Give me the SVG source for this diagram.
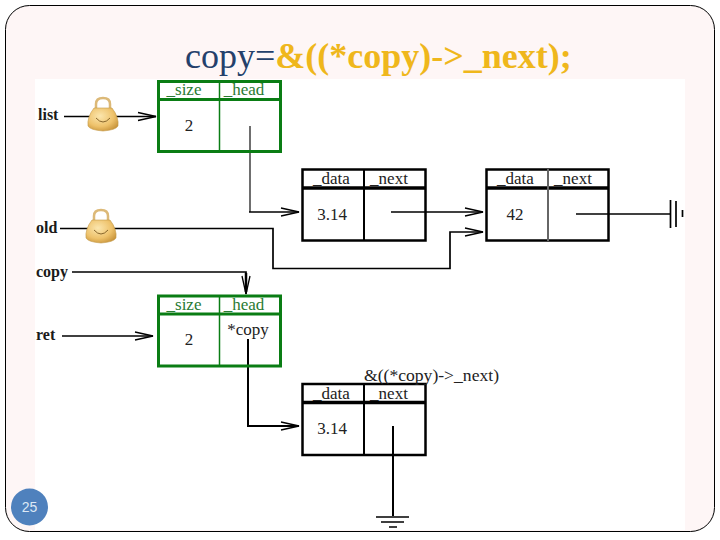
<svg xmlns="http://www.w3.org/2000/svg" width="720" height="540" viewBox="0 0 720 540">
<style>
.g{fill:none;stroke:#0a7d14;stroke-width:3}
.g2{fill:none;stroke:#0a7d14;stroke-width:1.5}
.k{fill:none;stroke:#000;stroke-width:2.5}
.w{fill:none;stroke:#000;stroke-width:1.7}
.h{fill:none;stroke:#000;stroke-width:3.500}
.t{font-family:"Liberation Serif",serif;font-size:17px;fill:#222}
.gt{font-family:"Liberation Serif",serif;font-size:17px;fill:#2a7a33}
.lb{font-family:"Liberation Serif",serif;font-size:16px;fill:#1a1a1a;font-weight:bold}
.m{text-anchor:middle}
.lock{fill:url(#gold);stroke:#c49a4a;stroke-width:.6}
.shack{fill:none;stroke:#dcb978;stroke-width:2.5}
.face{fill:none;stroke:#6b4a14;stroke-width:.8}
</style>
<defs>
<radialGradient id="gold" cx=".4" cy=".35" r=".75"><stop offset="0" stop-color="#fbe6ae"/><stop offset=".6" stop-color="#eec26b"/><stop offset="1" stop-color="#c48f35"/></radialGradient>
<marker id="a" markerUnits="userSpaceOnUse" markerWidth="20" markerHeight="12" refX="19" refY="6" orient="auto"><path d="M1 2L19 6L1 10" fill="none" stroke="#000" stroke-width="1.300"/></marker>
<g id="lk"><path class="shack" d="M-7-8V-13Q-7-19 0-19Q7-19 7-13V-8"/><path class="lock" d="M-9-9H9Q16 0 15 9Q13 13 0 14Q-13 13-15 9Q-16 0-9-9Z"/><path class="face" d="M-7 1Q0 9 7 1"/></g>
</defs>
<rect x="0" y="0" width="720" height="540" fill="#fff"/>
<rect x="5.500" y="5.500" width="709" height="526" rx="24" fill="#fef6f6" stroke="#000" stroke-width="1"/>
<rect x="35" y="79" width="650" height="451" fill="#fff"/>
<text x="185" y="68" font-family="Liberation Serif,serif" font-size="36" fill="#24406b">copy=<tspan fill="#efb71c" font-weight="bold">&amp;((*copy)-&gt;_next);</tspan></text>
<g id="connectors">
<path class="w" d="M64 116.500H156" marker-end="url(#a)"/>
<path class="w" style="stroke:#555" d="M250 126V212"/>
<path class="w" d="M249 212H299" marker-end="url(#a)"/>
<path class="w" d="M391 212H483" marker-end="url(#a)"/>
<path class="w" d="M576 214H670"/>
<path class="w" d="M670.500 200V228M676 201V227M682.500 210V217"/>
<path class="w" d="M60 228.500H273V268.500H450V232H483" marker-end="url(#a)"/>
<path class="w" d="M72 272H246V294" marker-end="url(#a)"/>
<path class="w" style="stroke-width:2.500" d="M246 273V292"/>
<path class="w" d="M62 336H153" marker-end="url(#a)"/>
<path class="w" style="stroke-width:2" d="M248 339V426H299" marker-end="url(#a)"/>
<path class="w" style="stroke-width:2" d="M393 426V516"/>
<path class="w" d="M376 517H409M381 522H404M389 527H397"/>
</g>
<g id="list-lock"><use href="#lk" x="103" y="117"/></g>
<g id="old-lock"><use href="#lk" x="101" y="229"/></g>
<g id="label-list"><text class="lb" x="38" y="120">list</text></g>
<g id="label-old"><text class="lb" x="36" y="233">old</text></g>
<g id="label-copy"><text class="lb" x="36" y="277">copy</text></g>
<g id="label-ret"><text class="lb" x="36" y="340">ret</text></g>
<g id="list-node">
<rect class="g" x="158.500" y="81.500" width="122" height="70"/>
<path class="g" d="M158 99.500H281"/><path class="g2" d="M219.500 81V152"/>
<text class="gt m" x="184" y="95">_size</text><text class="gt m" x="244" y="95">_head</text>
<text class="t m" x="189" y="131">2</text>
</g>
<g id="ret-node">
<rect class="g" x="158.500" y="296" width="122" height="70"/>
<path class="g" d="M158 314H281"/><path class="g2" d="M219.500 296V366"/>
<text class="gt m" x="184" y="310">_size</text><text class="gt m" x="244" y="310">_head</text>
<text class="t m" x="189" y="345">2</text><text class="t m" x="248" y="335">*copy</text>
</g>
<g id="node-1">
<rect class="k" x="302.500" y="169.500" width="123" height="71"/>
<path class="h" d="M302 188H426"/><path class="k" style="stroke-width:2" d="M364 169V241"/>
<text class="t m" x="331.500" y="184">_data</text><text class="t m" x="389" y="184">_next</text>
<text class="t m" x="332" y="220">3.14</text>
</g>
<g id="node-2">
<rect class="k" x="486.500" y="169.500" width="122" height="71"/>
<path class="h" d="M486 188H609"/><path class="k" style="stroke-width:2;stroke:#666" d="M548 169V241"/>
<text class="t m" x="515.500" y="184">_data</text><text class="t m" x="573" y="184">_next</text>
<text class="t m" x="515" y="220">42</text>
</g>
<g id="node-3">
<rect class="k" x="302.500" y="384" width="123" height="71"/>
<path class="h" d="M302 402.500H426"/><path class="k" style="stroke-width:2" d="M364 384V455"/>
<text class="t m" x="331.500" y="399">_data</text><text class="t m" x="389" y="399">_next</text>
<text class="t m" x="332" y="434">3.14</text>
<text class="t" style="font-size:17.600px" x="364" y="381">&amp;((*copy)-&gt;_next)</text>
</g>
<g id="page-number">
<circle cx="29.500" cy="507" r="18.500" fill="#4f81bd"/>
<text x="29.500" y="512" text-anchor="middle" font-family="Liberation Sans,sans-serif" font-size="14" fill="#dde8f5">25</text>
</g>
</svg>
